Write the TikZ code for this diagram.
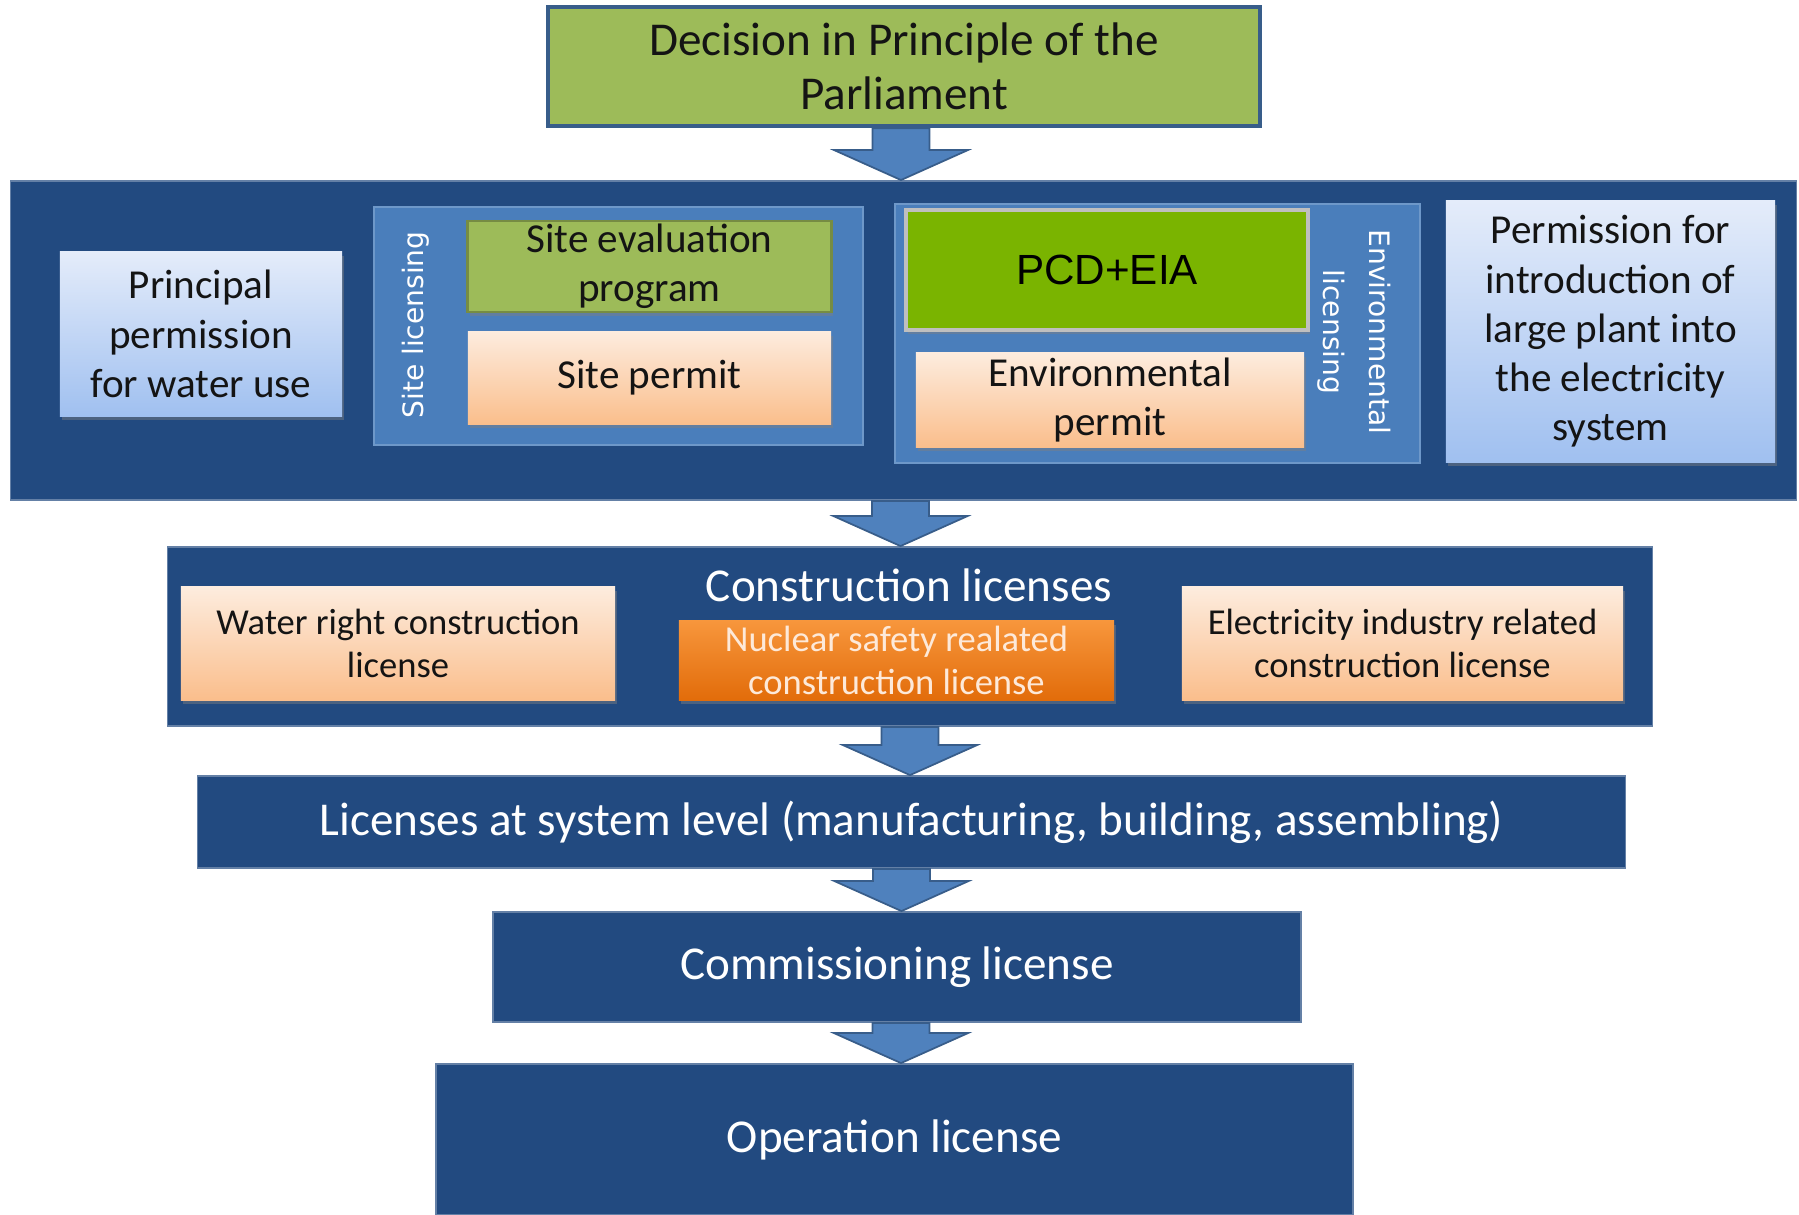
\documentclass[tikz,border=0pt]{standalone}
\usepackage{fontspec}
\setmainfont{Carlito}
\newfontfamily\arialfont{Liberation Sans}
\newfontfamily\sidefont{DejaVu Sans}
\usetikzlibrary{calc,shadows}

\definecolor{navyband}{RGB}{34,74,128}
\definecolor{groupblue}{RGB}{74,126,187}
\definecolor{arrowfill}{RGB}{79,129,189}
\definecolor{arrowline}{RGB}{56,93,138}
\definecolor{olivefill}{RGB}{157,187,89}
\definecolor{limefill}{RGB}{122,180,0}
\definecolor{peachtop}{RGB}{253,236,222}
\definecolor{peachbot}{RGB}{250,190,140}
\definecolor{skytop}{RGB}{228,236,250}
\definecolor{skybot}{RGB}{160,192,240}
\definecolor{orangetop}{RGB}{247,150,60}
\definecolor{orangebot}{RGB}{226,108,10}
\definecolor{inktext}{RGB}{20,20,20}
\definecolor{palepeach}{RGB}{253,233,217}

% block arrow from one box down to the next, optional sideways shift
\newcommand\flowarrow[3][0cm]{%
  \filldraw[fill=arrowfill,draw=arrowline,line width=0.5pt]
    let \p1=($(#2.south)+(#1,0)$), \p2=(#3.north) in
    (\x1-0.285cm,\y1) -- (\x1-0.285cm,\y2+0.3cm) -- (\x1-0.67cm,\y2+0.3cm)
    -- (\x1,\y2) -- (\x1+0.67cm,\y2+0.3cm) -- (\x1+0.285cm,\y2+0.3cm)
    -- (\x1+0.285cm,\y1) -- cycle;}

\begin{document}
\begin{tikzpicture}[x=0.01cm,y=-0.01cm,
  every node/.style={inner sep=0pt,align=center,text=inktext},
  band/.style={fill=navyband,draw=navyband!70!white,line width=0.5pt},
  group/.style={fill=groupblue,draw=groupblue!80!white,line width=0.5pt},
  lift/.style={drop shadow={shadow xshift=0.5pt,shadow yshift=-1.2pt,opacity=0.45}},
  peachbox/.style={lift,top color=peachtop,bottom color=peachbot},
  skybox/.style={lift,top color=skytop,bottom color=skybot},
  bigtext/.style={font=\fontsize{13.4}{15.4}\selectfont},
  midtext/.style={font=\fontsize{11.7}{14}\selectfont},
  smalltext/.style={font=\fontsize{10.4}{12.4}\selectfont},
  sidetext/.style={font=\sidefont\fontsize{8}{13}\selectfont,text=white}]
\useasboundingbox (0,0) rectangle (1799,1215);

\node[bigtext,fill=olivefill,draw=arrowline,line width=1.2pt,
  minimum width=7.12cm,minimum height=1.19cm] (parl) at (904,66.5)
  {Decision in Principle of the\\Parliament};

\node[band,minimum width=17.85cm,minimum height=3.19cm] (stage) at (903.5,340.5) {};
\node[skybox,midtext,minimum width=2.82cm,minimum height=1.64cm] (water) at (201,334)
  {Principal\\permission\\for water use};
\node[group,minimum width=4.89cm,minimum height=2.38cm] (sitelic) at (618.5,326) {};
\node[sidetext,rotate=90] (sitelabel) at (416,325) {Site licensing};
\node[lift,midtext,fill=olivefill,draw=olivefill!75!black,line width=0.8pt,
  minimum width=3.63cm,minimum height=0.91cm] (siteeval) at (649.5,266.5)
  {Site evaluation\\program};
\node[peachbox,midtext,minimum width=3.63cm,minimum height=0.92cm] (sitepermit) at (649.5,378)
  {Site permit};
\node[group,minimum width=5.25cm,minimum height=2.59cm] (envlic) at (1157.5,333.5) {};
\node[lift,fill=limefill,draw=black!25,line width=1.2pt,font=\arialfont\fontsize{12}{14}\selectfont,
  text=black,minimum width=4.02cm,minimum height=1.2cm] (pcd) at (1107,270) {PCD+EIA};
\node[peachbox,midtext,minimum width=3.88cm,minimum height=0.94cm] (envpermit) at (1110,400)
  {Environmental\\permit};
\node[sidetext,rotate=-90] (envlabel) at (1354,332) {Environmental\\licensing};
\node[skybox,midtext,minimum width=3.29cm,minimum height=2.61cm] (plant) at (1610.5,331.5)
  {Permission for\\introduction of\\large plant into\\the electricity\\system};

\node[band,minimum width=14.84cm,minimum height=1.79cm] (build) at (910,636.5) {};
\node[bigtext,text=white] (buildlabel) at (909,585) {Construction licenses};
\node[peachbox,smalltext,minimum width=4.34cm,minimum height=1.13cm] (waterright) at (398,643.5)
  {Water right construction\\license};
\node[lift,smalltext,top color=orangetop,bottom color=orangebot,text=palepeach,
  minimum width=4.35cm,minimum height=0.79cm] (nuclear) at (896.5,660.5)
  {Nuclear safety realated\\construction license};
\node[peachbox,smalltext,minimum width=4.41cm,minimum height=1.13cm] (electric) at (1402.5,643.5)
  {Electricity industry related\\construction license};

\node[band,bigtext,text=white,minimum width=14.27cm,minimum height=0.92cm] (system) at (911.5,822)
  {Licenses at system level (manufacturing, building, assembling)};
\node[band,bigtext,text=white,minimum width=8.08cm,minimum height=1.1cm] (commis) at (897,967)
  {Commissioning license};
\node[band,bigtext,text=white,minimum width=9.17cm,minimum height=1.51cm] (oper) at (894.5,1139.5)
  {Operation license};

\flowarrow[-0.03cm]{parl}{stage}
\flowarrow[-0.03cm]{stage}{build}
\flowarrow{build}{system}
\flowarrow[-0.1cm]{system}{commis}
\flowarrow[0.04cm]{commis}{oper}
\end{tikzpicture}
\end{document}
